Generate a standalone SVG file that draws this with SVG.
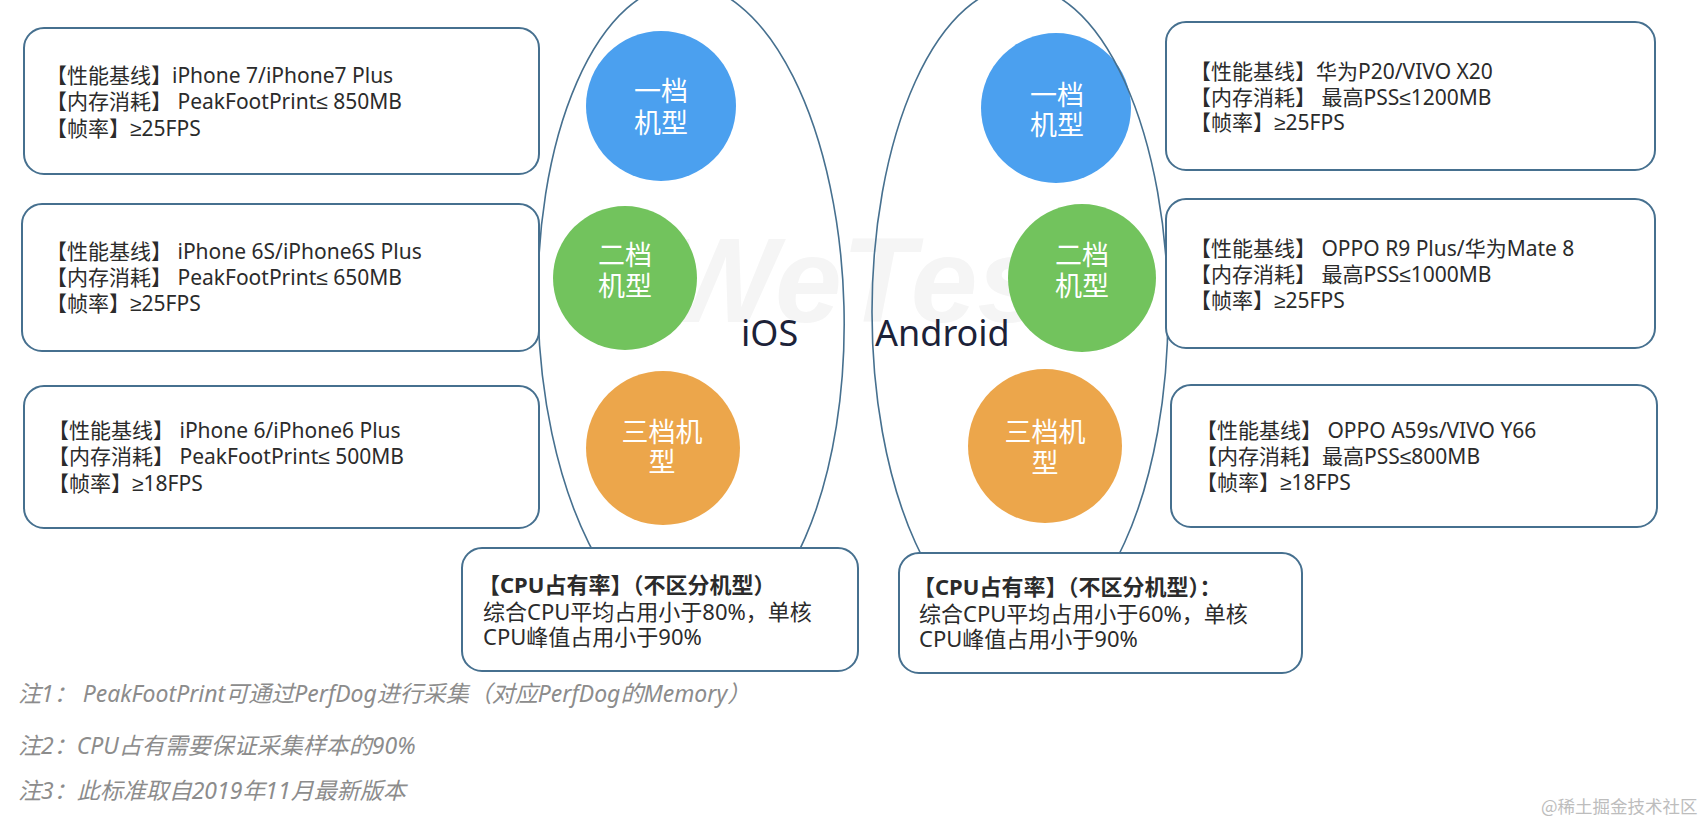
<svg xmlns="http://www.w3.org/2000/svg" width="1708" height="824" viewBox="0 0 1708 824" xml:space="preserve">
<style>
.bg{fill:#ffffff}
.box{fill:#ffffff;stroke:#46708f;stroke-width:2}
.oval{fill:none;stroke:#46708f;stroke-width:1.6}
.t{font-family:"Noto Sans","Noto Sans CJK SC",sans-serif;font-size:21px;fill:#2b2b2b}
.s{font-family:"Liberation Sans","DejaVu Sans",sans-serif}
.cpu{font-family:"Noto Sans","Noto Sans CJK SC",sans-serif;font-size:22px;fill:#2b2b2b}
.b{font-weight:bold}
.ct{font-family:"Noto Sans CJK SC",sans-serif;font-size:27px;fill:#ffffff;text-anchor:middle}
.os{font-family:"Noto Sans",sans-serif;font-size:36px;fill:#1c2238}
.note{font-family:"Noto Sans","Noto Sans CJK SC",sans-serif;font-size:23px;fill:#8c8c8c;font-style:italic}
.wm{font-family:"Liberation Sans",sans-serif;font-size:120px;font-weight:bold;font-style:italic;fill:#f5f5f5}
.blue{fill:#4ba0ef}
.green{fill:#72c35d}
.orange{fill:#eca64b}
</style>
<rect class="bg" x="0" y="0" width="1708" height="824"/>
<text class="wm" x="664" y="322">WeTest</text>

<g id="ios-tier1"><circle class="blue" cx="661" cy="106" r="75"/><text class="ct" x="661" y="101">一档</text><text class="ct" x="661" y="133">机型</text></g>
<g id="ios-tier2"><circle class="green" cx="625" cy="278" r="72"/><text class="ct" x="625" y="265">二档</text><text class="ct" x="625" y="296">机型</text></g>
<g id="ios-tier3"><circle class="orange" cx="663" cy="448" r="77"/><text class="ct" x="662" y="442">三档机</text><text class="ct" x="662" y="472">型</text></g>
<g id="android-tier1"><circle class="blue" cx="1056" cy="108" r="75"/><text class="ct" x="1057" y="105">一档</text><text class="ct" x="1057" y="135">机型</text></g>
<g id="android-tier2"><circle class="green" cx="1082" cy="278" r="74"/><text class="ct" x="1082" y="265">二档</text><text class="ct" x="1082" y="296">机型</text></g>
<g id="android-tier3"><circle class="orange" cx="1045" cy="446" r="77"/><text class="ct" x="1045" y="442">三档机</text><text class="ct" x="1045" y="473">型</text></g>

<g id="platforms">
<ellipse id="ios-oval" class="oval" cx="691" cy="310" rx="153" ry="326" transform="rotate(-1.5 691 310)"/>
<ellipse id="android-oval" class="oval" cx="1020" cy="312" rx="148" ry="326"/>
<text class="os" x="741" y="346">iOS</text>
<text class="os" x="875" y="346">Android</text>
</g>

<g id="ios-box1"><rect class="box" x="24" y="28" width="515" height="146" rx="20"/>
<text class="t" x="46" y="83">【性能基线】iPhone 7/iPhone7 Plus</text>
<text class="t" x="46" y="109">【内存消耗】 PeakFootPrint<tspan class="s">≤</tspan> 850MB</text>
<text class="t" x="46" y="136">【帧率】<tspan class="s">≥</tspan>25FPS</text></g>
<g id="ios-box2"><rect class="box" x="22" y="204" width="517" height="147" rx="20"/>
<text class="t" x="46" y="259">【性能基线】 iPhone 6S/iPhone6S Plus</text>
<text class="t" x="46" y="285">【内存消耗】  PeakFootPrint<tspan class="s">≤</tspan> 650MB</text>
<text class="t" x="46" y="311">【帧率】<tspan class="s">≥</tspan>25FPS</text></g>
<g id="ios-box3"><rect class="box" x="24" y="386" width="515" height="142" rx="20"/>
<text class="t" x="48" y="438">【性能基线】 iPhone 6/iPhone6 Plus</text>
<text class="t" x="48" y="464">【内存消耗】 PeakFootPrint<tspan class="s">≤</tspan> 500MB</text>
<text class="t" x="48" y="491">【帧率】<tspan class="s">≥</tspan>18FPS</text></g>

<g id="android-box1"><rect class="box" x="1166" y="22" width="489" height="148" rx="20"/>
<text class="t" x="1190" y="79">【性能基线】华为P20/VIVO X20</text>
<text class="t" x="1190" y="105">【内存消耗】 最高PSS<tspan class="s">≤</tspan>1200MB</text>
<text class="t" x="1190" y="130">【帧率】<tspan class="s">≥</tspan>25FPS</text></g>
<g id="android-box2"><rect class="box" x="1166" y="199" width="489" height="149" rx="20"/>
<text class="t" x="1190" y="256">【性能基线】 OPPO R9 Plus/华为Mate 8</text>
<text class="t" x="1190" y="282">【内存消耗】 最高PSS<tspan class="s">≤</tspan>1000MB</text>
<text class="t" x="1190" y="308">【帧率】<tspan class="s">≥</tspan>25FPS</text></g>
<g id="android-box3"><rect class="box" x="1171" y="385" width="486" height="142" rx="20"/>
<text class="t" x="1196" y="438">【性能基线】 OPPO A59s/VIVO Y66</text>
<text class="t" x="1196" y="464">【内存消耗】最高PSS<tspan class="s">≤</tspan>800MB</text>
<text class="t" x="1196" y="490">【帧率】<tspan class="s">≥</tspan>18FPS</text></g>

<g id="ios-cpu"><rect class="box" x="462" y="548" width="396" height="123" rx="20"/>
<text class="cpu b" x="478" y="593">【CPU占有率】（不区分机型）</text>
<text class="cpu" x="483" y="620">综合CPU平均占用小于80%，单核</text>
<text class="cpu" x="483" y="645">CPU峰值占用小于90%</text></g>
<g id="android-cpu"><rect class="box" x="899" y="553" width="403" height="120" rx="20"/>
<text class="cpu b" x="913" y="595">【CPU占有率】（不区分机型）：</text>
<text class="cpu" x="919" y="622">综合CPU平均占用小于60%，单核</text>
<text class="cpu" x="919" y="647">CPU峰值占用小于90%</text></g>

<g id="connectors"></g>

<g id="notes">
<text class="note" x="18" y="702">注1： PeakFootPrint可通过PerfDog进行采集（对应PerfDog的Memory）</text>
<text class="note" x="18" y="754">注2：CPU占有需要保证采集样本的90%</text>
<text class="note" x="18" y="799">注3：此标准取自2019年11月最新版本</text>
</g>
<text x="1541" y="813" style="font-family:'Noto Sans CJK SC',sans-serif;font-size:17.5px;fill:#bdbdbd">@稀土掘金技术社区</text>
</svg>
